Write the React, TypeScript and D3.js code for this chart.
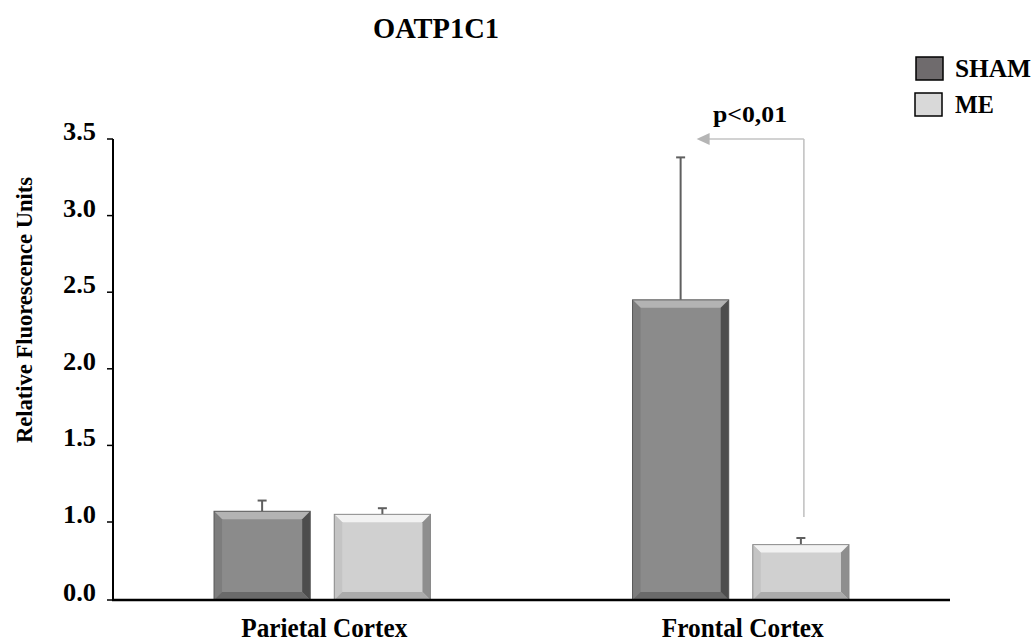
import React from "react";
import * as d3 from "d3";

const categories = ["Parietal Cortex", "Frontal Cortex"];
const seriesNames = ["SHAM", "ME"];
const shamValues = [1.07, 2.45];
const meValues = [1.05, 0.71];
const shamErrors = [0.07, 0.93];
const meErrors = [0.04, 0.085];
const tickValues = [0, 1, 1.5, 2, 2.5, 3, 3.5];
const tickLabels = ["0.0", "1.0", "1.5", "2.0", "2.5", "3.0", "3.5"];
const pLabel = "p<0,01";

const W = 1036;
const H = 644;
const FONT = "'Liberation Serif', 'Times New Roman', serif";

const palette = {
  SHAM: { face: "#8b8b8b", top: "#b3b3b3", left: "#7d7d7d", right: "#4d4d4d", bottom: "#6a6a6a", edge: "#5a5a5a", legend: "#6f6b6d" },
  ME: { face: "#d0d0d0", top: "#f2f2f2", left: "#c4c4c4", right: "#8e8e8e", bottom: "#ababab", edge: "#8a8a8a", legend: "#d9d9d9" },
};

function BevelBar({ x, y, w, h, c }: any) {
  const b = Math.min(8, h / 3);
  const x2 = x + w;
  const y2 = y + h;
  const p = (pts: number[][]) => pts.map((q) => q.join(",")).join(" ");
  return (
    <g>
      <rect x={x} y={y} width={w} height={h} fill={c.face} />
      <polygon points={p([[x, y], [x2, y], [x2 - b, y + b], [x + b, y + b]])} fill={c.top} />
      <polygon points={p([[x, y], [x + b, y + b], [x + b, y2 - b], [x, y2]])} fill={c.left} />
      <polygon points={p([[x2, y], [x2, y2], [x2 - b, y2 - b], [x2 - b, y + b]])} fill={c.right} />
      <polygon points={p([[x, y2], [x + b, y2 - b], [x2 - b, y2 - b], [x2, y2]])} fill={c.bottom} />
      <rect x={x} y={y} width={w} height={h} fill="none" stroke={c.edge} strokeWidth={1} />
    </g>
  );
}

export default function App() {
  const y = d3.scaleLinear().domain([0, 1, 3.5]).range([600, 522, 139]);
  const x0 = d3.scaleBand().domain(categories).range([113, 950]).paddingInner(0).paddingOuter(0);
  const x1 = d3.scaleBand().domain(seriesNames).range([0, x0.bandwidth()]).paddingInner(0.2).paddingOuter(0.84);
  const bw = x1.bandwidth();

  const bars: any[] = [];
  categories.forEach((cat, i) => {
    [
      { s: "SHAM", v: shamValues[i], e: shamErrors[i] },
      { s: "ME", v: meValues[i], e: meErrors[i] },
    ].forEach((d) => {
      const bx = (x0(cat) as number) + (x1(d.s) as number);
      bars.push({ cat, s: d.s, x: bx, cx: bx + bw / 2, top: y(d.v), errTop: y(d.v + d.e) });
    });
  });

  const fSham = bars.find((b) => b.cat === "Frontal Cortex" && b.s === "SHAM");
  const fMe = bars.find((b) => b.cat === "Frontal Cortex" && b.s === "ME");
  const arrowY = y(3.5);
  const arrowX = fMe.cx + 3;
  const tipX = fSham.cx + 16;

  return (
    <svg width={W} height={H} style={{ position: "absolute", left: 0, top: 0 }} fontFamily={FONT} fontWeight="bold">
      <rect width={W} height={H} fill="#ffffff" />
      <text x={436} y={38} fontSize={29} textAnchor="middle" textLength={126} lengthAdjust="spacingAndGlyphs">OATP1C1</text>

      {bars.map((b, i) => (
        <g key={"e" + i} stroke="#5f5f5f" strokeWidth={2}>
          <line x1={b.cx} x2={b.cx} y1={b.top} y2={b.errTop} />
          <line x1={b.cx - 4.5} x2={b.cx + 4.5} y1={b.errTop} y2={b.errTop} />
        </g>
      ))}
      {bars.map((b, i) => (
        <BevelBar key={"b" + i} x={b.x} y={b.top} w={bw} h={y(0) - b.top} c={(palette as any)[b.s]} />
      ))}

      <g stroke="#c3c3c3" strokeWidth={1.6} fill="none">
        <line x1={arrowX} x2={arrowX} y1={fMe.errTop - 21} y2={arrowY} />
        <line x1={arrowX} x2={tipX + 12} y1={arrowY} y2={arrowY} />
      </g>
      <polygon points={`${tipX},${arrowY} ${tipX + 13},${arrowY - 6} ${tipX + 13},${arrowY + 6}`} fill="#b5b5b5" />
      <text x={713} y={122} fontSize={24} textLength={74} lengthAdjust="spacingAndGlyphs">{pLabel}</text>

      <line x1={113} x2={113} y1={y(3.5)} y2={y(0)} stroke="#000" strokeWidth={2} />
      <line x1={112} x2={950} y1={y(0)} y2={y(0)} stroke="#000" strokeWidth={2.5} />
      {tickValues.map((t, i) => (
        <g key={"t" + i}>
          <line x1={107} x2={113} y1={y(t)} y2={y(t)} stroke="#000" strokeWidth={1.5} />
          <text x={96} y={y(t) + 1} fontSize={25} textAnchor="end" textLength={33} lengthAdjust="spacingAndGlyphs">{tickLabels[i]}</text>
        </g>
      ))}
      <text transform={`translate(32,310) rotate(-90)`} fontSize={23} textAnchor="middle" textLength={266} lengthAdjust="spacingAndGlyphs">Relative Fluorescence Units</text>

      {categories.map((c, i) => (
        <text key={"c" + i} x={(x0(c) as number) + x0.bandwidth() / 2 + 2} y={637} fontSize={28} textAnchor="middle" textLength={i === 0 ? 166 : 162} lengthAdjust="spacingAndGlyphs">{c}</text>
      ))}

      {seriesNames.map((s, i) => (
        <g key={"l" + i}>
          <rect x={916 - i} y={57 + i * 36} width={27} height={23} fill={(palette as any)[s].legend} stroke="#000" strokeWidth={1.5} />
          <text x={955} y={77 + i * 36} fontSize={25} textLength={s === "SHAM" ? 76 : 39} lengthAdjust="spacingAndGlyphs">{s}</text>
        </g>
      ))}
    </svg>
  );
}
